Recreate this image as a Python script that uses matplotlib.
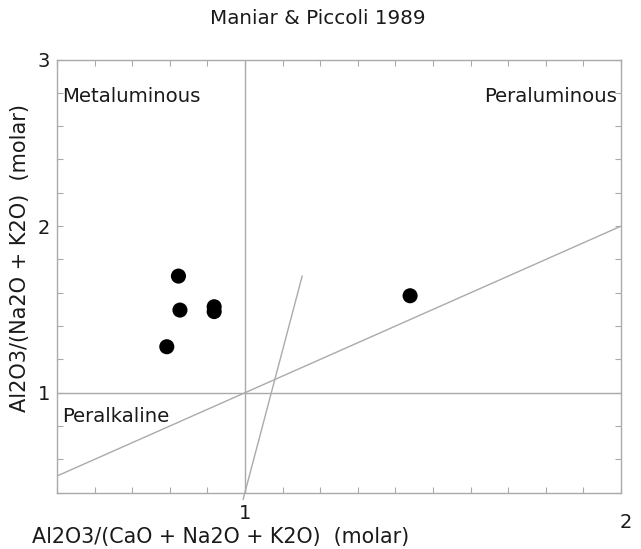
import matplotlib.pyplot as plt
import matplotlib.transforms as mtransforms
from matplotlib.ticker import MultipleLocator, FixedLocator

plt.rcParams['font.family'] = ['DejaVu Sans']

# samples (A/CNK, A/NK), molar
acnk = [0.823, 0.827, 0.792, 0.918, 0.918, 1.439]
ank = [1.700, 1.496, 1.276, 1.516, 1.487, 1.582]

# Maniar & Piccoli discrimination lines
one_to_one_x = [0.5, 2.0]
one_to_one_y = [0.5, 2.0]
steep_x = [0.995, 1.152]
steep_y = [0.36, 1.70]

x_major = [1, 2]
y_major = [1, 2, 3]

grey = '#aaaaaa'
ink = '#1a1a1a'

fig = plt.figure(figsize=(6.41, 5.49), dpi=100)
ax = fig.add_axes([0.0889, 0.1026, 0.88, 0.789])

ax.set_xlim(0.5, 2.0)
ax.set_ylim(0.4, 3.0)

ax.axvline(1.0, color=grey, lw=1.0)
ax.axhline(1.0, color=grey, lw=1.0)
ax.plot(one_to_one_x, one_to_one_y, color=grey, lw=1.0)
ax.plot(steep_x, steep_y, color=grey, lw=1.0, clip_on=False)

ax.scatter(acnk, ank, s=118, color='black', edgecolors='none', zorder=3)

ax.xaxis.set_major_locator(FixedLocator(x_major))
ax.yaxis.set_major_locator(FixedLocator(y_major))
ax.xaxis.set_minor_locator(MultipleLocator(0.1))
ax.yaxis.set_minor_locator(MultipleLocator(0.2))
ax.set_xticklabels([str(v) for v in x_major])
ax.set_yticklabels([str(v) for v in y_major])
ax.tick_params(which='both', direction='in', top=True, right=True,
               length=4, width=0.8, color=grey, labelcolor=ink, labelsize=14)
ax.tick_params(axis='x', pad=8)
ax.tick_params(axis='y', pad=5)

# IDL-style nudge on the last x label
lab2 = ax.get_xticklabels()[1]
lab2.set_transform(lab2.get_transform() +
                   mtransforms.ScaledTranslation(0.05, -0.09, fig.dpi_scale_trans))

for s in ax.spines.values():
    s.set_color(grey)
    s.set_linewidth(1.0)

ax.text(0.513, 2.78, 'Metaluminous', fontsize=14.2, color=ink, va='center', ha='left')
ax.text(1.99, 2.78, 'Peraluminous', fontsize=14.2, color=ink, va='center', ha='right')
ax.text(0.513, 0.86, 'Peralkaline', fontsize=14.2, color=ink, va='center', ha='left')

fig.text(318 / 641, 1 - 19 / 549, 'Maniar & Piccoli 1989', fontsize=14.3,
         color=ink, ha='center', va='center')
fig.text(32 / 641, 1 - 537 / 549, 'Al2O3/(CaO + Na2O + K2O)  (molar)', fontsize=14.9,
         color=ink, ha='left', va='center')
fig.text(20 / 641, 1 - 258 / 549, 'Al2O3/(Na2O + K2O)  (molar)', fontsize=15,
         color=ink, ha='center', va='center', rotation=90)

fig.savefig('out.png', dpi=100)
